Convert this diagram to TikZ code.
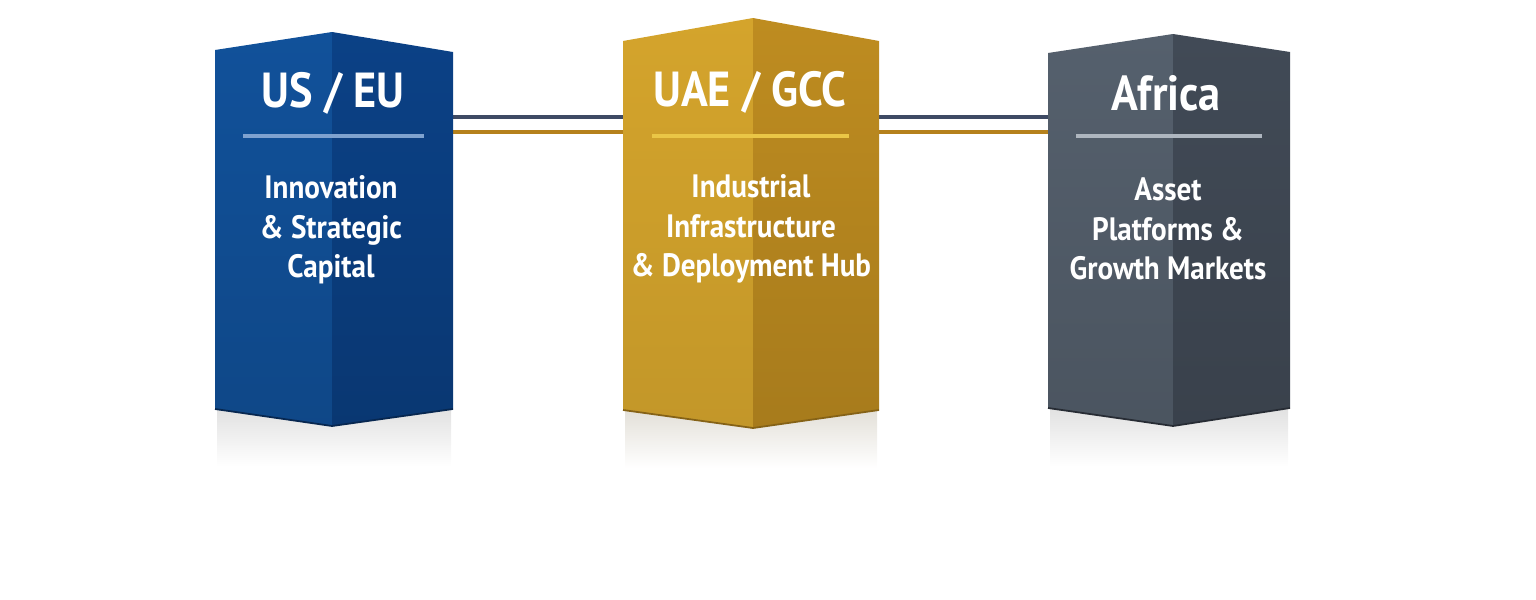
\documentclass[tikz,border=0pt]{standalone}
\usepackage{fontspec}
\setmainfont{PT Sans}[FakeStretch=0.9]
\usetikzlibrary{positioning}

\definecolor{usleft}{HTML}{11519A}
\definecolor{usright}{HTML}{0B4186}
\definecolor{usrule}{HTML}{7FA2CF}
\definecolor{gccleft}{HTML}{D4A42C}
\definecolor{gccright}{HTML}{BE8C20}
\definecolor{gccrule}{HTML}{EAC646}
\definecolor{afleft}{HTML}{55606D}
\definecolor{afright}{HTML}{414A56}
\definecolor{afrule}{HTML}{AEB6BF}
\definecolor{linkdark}{HTML}{3E4A64}
\definecolor{linkgold}{HTML}{B5811C}

\begin{document}
\begin{tikzpicture}[x=0.01cm, y=-0.01cm,
        title/.style = {text=white, font=\fontsize{14}{16}\selectfont\bfseries, inner sep=0pt},
        body/.style = {text=white, font=\fontsize{9.2}{11.2}\selectfont\bfseries, align=center, inner sep=0pt},
        rule/.style = {line width=0.9pt},
        link/.style = {line width=1.2pt}
        ]
        \useasboundingbox (0,0) rectangle (1536,600);

        % reflections under the pillars
        \shade[top color=gray!25, bottom color=white] (217,405) rectangle (451,466);
        \shade[top color=gccleft!25!gray!28, bottom color=white] (625,406) rectangle (877,468);
        \shade[top color=gray!25, bottom color=white] (1050,404) rectangle (1288,466);

        % connector ends
        \coordinate (usE1) at (453,117);
        \coordinate (usE2) at (453,132);
        \coordinate (gccW1) at (623,117);
        \coordinate (gccW2) at (623,132);
        \coordinate (gccE1) at (879,117);
        \coordinate (gccE2) at (879,132);
        \coordinate (afW1) at (1048,117);
        \coordinate (afW2) at (1048,132);

        \draw[link, linkdark] (usE1) -- (gccW1);
        \draw[link, linkgold] (usE2) -- (gccW2);
        \draw[link, linkdark] (gccE1) -- (afW1);
        \draw[link, linkgold] (gccE2) -- (afW2);

        % US / EU pillar
        \shade[top color=usleft, bottom color=usleft!88!black] (215,50) -- (332,32) -- (332,426) -- (215,409) -- cycle;
        \shade[top color=usright, bottom color=usright!85!black] (332,32) -- (453,52) -- (453,409) -- (332,426) -- cycle;
        \draw[usright!60!black, line width=0.5pt] (215,409) -- (332,426) -- (453,409);

        % UAE / GCC pillar
        \shade[top color=gccleft, bottom color=gccleft!92!black] (623,41) -- (753,18) -- (753,428) -- (623,410) -- cycle;
        \shade[top color=gccright, bottom color=gccright!88!black] (753,18) -- (879,41) -- (879,410) -- (753,428) -- cycle;
        \draw[gccright!70!black, line width=0.5pt] (623,410) -- (753,428) -- (879,410);

        % Africa pillar
        \shade[top color=afleft, bottom color=afleft!88!black] (1048,53) -- (1173,34) -- (1173,426) -- (1048,408) -- cycle;
        \shade[top color=afright, bottom color=afright!88!black] (1173,34) -- (1290,52) -- (1290,408) -- (1173,426) -- cycle;
        \draw[afright!60!black, line width=0.5pt] (1048,408) -- (1173,426) -- (1290,408);

        % texts
        \node[title] (ustitle) at (333,93) {US / EU};
        \draw[rule, usrule] (243,136) -- (424,136);
        \node[body] (usbody) at (331,230) {Innovation\\\& Strategic\\Capital};

        \node[title] (gcctitle) at (750,92) {UAE / GCC};
        \draw[rule, gccrule] (652,136) -- (849,136);
        \node[body] (gccbody) at (751,229) {Industrial\\Infrastructure\\\& Deployment Hub};

        \node[title] (aftitle) at (1166,93) {Africa};
        \draw[rule, afrule] (1076,136) -- (1262,136);
        \node[body] (afbody) at (1168,229) {Asset\\Platforms \&\\Growth Markets};
    \end{tikzpicture}
\end{document}
